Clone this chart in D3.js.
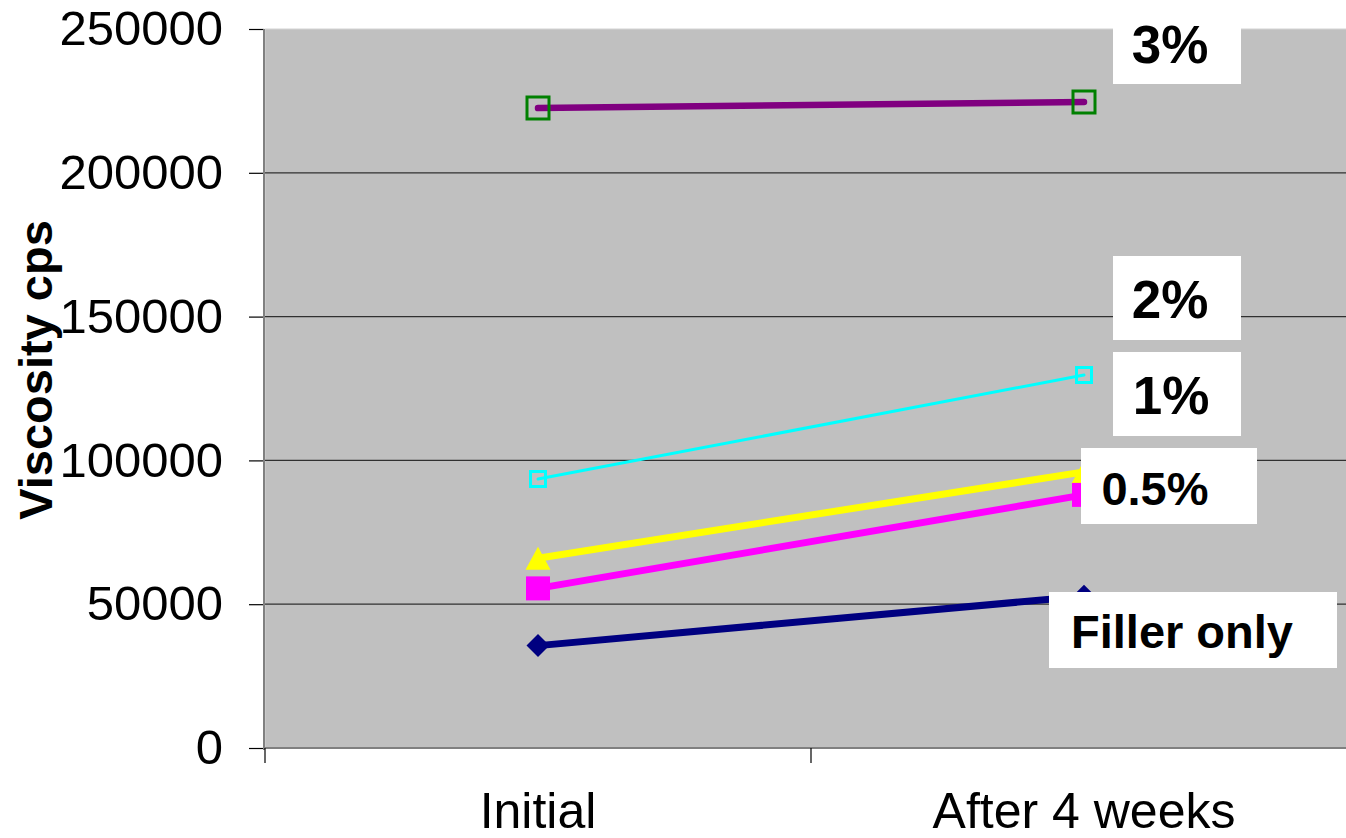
<!DOCTYPE html>
<html>
<head>
<meta charset="utf-8">
<script src="https://cdn.jsdelivr.net/npm/d3@7"></script>
<style>
  body { margin: 0; background: #fff; }
  svg { display: block; font-family: Arial, "Liberation Sans", sans-serif; }
</style>
</head>
<body>
<div id="chart"></div>
<script>
// values
const categories = ['Initial', 'After 4 weeks'];
const yTicks = [0, 50000, 100000, 150000, 200000, 250000];
const seriesLabels = ['3%', '2%', '1%', '0.5%', 'Filler only'];
const conc3 = [222500, 224600];
const conc2 = [93500, 129700];
const conc1 = [66000, 96000];
const conc05 = [55500, 88000];
const fillerOnly = [35600, 52800];

const width = 1346;
const height = 838;
const margin = { top: 29, right: -11, bottom: 90, left: 265 };

// line / marker looks per series
const styles = [
  { values: conc3, line: '#800080', lw: 6.5, shape: 'square', size: 22, fill: 'none', stroke: '#008000', sw: 3 },
  { values: conc2, line: '#00ffff', lw: 3, shape: 'square', size: 15, fill: 'none', stroke: '#00ffff', sw: 3 },
  { values: conc1, line: '#ffff00', lw: 7, shape: 'triangle', size: 25, fill: '#ffff00', stroke: 'none', sw: 0 },
  { values: conc05, line: '#ff00ff', lw: 7, shape: 'square', size: 24, fill: '#ff00ff', stroke: 'none', sw: 0 },
  { values: fillerOnly, line: '#000080', lw: 7, shape: 'diamond', size: 23, fill: '#000080', stroke: 'none', sw: 0 }
];

// white label boxes on the right (hand placed, like in the original)
const labelBoxes = [
  { x: 1113, y: 0, w: 128, h: 84, size: 53, base: 63, dx: -7 },
  { x: 1113, y: 256, w: 128, h: 84, size: 53, base: 318, dx: -7 },
  { x: 1113, y: 352, w: 128, h: 84, size: 53, base: 414, dx: -6 },
  { x: 1081, y: 448, w: 176, h: 76, size: 47, base: 505, dx: -14 },
  { x: 1049, y: 592, w: 288, h: 76, size: 47, base: 648, dx: -11 }
];

const svg = d3.select('#chart')
  .append('svg')
  .attr('width', width)
  .attr('height', height);

const x = d3.scaleBand()
  .domain(categories)
  .range([margin.left, width - margin.right])
  .padding(0);

const y = d3.scaleLinear()
  .domain([0, 250000])
  .range([height - margin.bottom, margin.top]);

const cx = (c) => x(c) + x.bandwidth() / 2;

// plot background
svg.append('rect')
  .attr('x', margin.left)
  .attr('y', y(250000))
  .attr('width', width - margin.right - margin.left)
  .attr('height', y(0) - y(250000))
  .attr('fill', '#c0c0c0')
  .attr('stroke', '#d4d4d4')
  .attr('stroke-width', 1);

// gridlines
svg.append('g')
  .selectAll('line')
  .data(yTicks.filter((d) => d > 0 && d < 250000))
  .join('line')
  .attr('x1', margin.left)
  .attr('x2', width - margin.right)
  .attr('y1', (d) => y(d))
  .attr('y2', (d) => y(d))
  .attr('stroke', '#303030')
  .attr('stroke-width', 1.2);

// Y axis
const yAxis = svg.append('g')
  .attr('transform', `translate(${margin.left - 1},0)`)
  .call(d3.axisLeft(y).tickValues(yTicks).tickSize(15).tickPadding(26).tickFormat((d) => d));
yAxis.select('.domain').remove();
yAxis.selectAll('.tick line').attr('stroke', '#000').attr('stroke-width', 1.2);
yAxis.selectAll('text').attr('font-size', 49).attr('fill', '#000')
  .attr('font-family', 'Arial, "Liberation Sans", sans-serif');

svg.append('line')
  .attr('x1', margin.left - 1).attr('x2', margin.left - 1)
  .attr('y1', y(250000)).attr('y2', y(0) + 2)
  .attr('stroke', '#808080').attr('stroke-width', 2);

// X axis: labels at centres, tick marks between categories
const xAxis = svg.append('g')
  .attr('transform', `translate(0,${y(0)})`)
  .call(d3.axisBottom(x).tickSize(0).tickPadding(44));
xAxis.select('.domain').remove();
xAxis.selectAll('text').attr('font-size', 50).attr('fill', '#000')
  .attr('font-family', 'Arial, "Liberation Sans", sans-serif');

svg.append('line')
  .attr('x1', margin.left - 2).attr('x2', width)
  .attr('y1', y(0)).attr('y2', y(0))
  .attr('stroke', '#808080').attr('stroke-width', 2);

svg.append('g')
  .selectAll('line')
  .data(categories)
  .join('line')
  .attr('x1', (d) => x(d))
  .attr('x2', (d) => x(d))
  .attr('y1', y(0))
  .attr('y2', y(0) + 15)
  .attr('stroke', '#000')
  .attr('stroke-width', 1.2);

// Y axis title
svg.append('text')
  .attr('transform', 'rotate(-90)')
  .attr('x', -370)
  .attr('y', 52)
  .attr('text-anchor', 'middle')
  .attr('font-size', 47)
  .attr('font-weight', 'bold')
  .text('Viscosity cps');

// lines
const line = d3.line()
  .x((d, i) => cx(categories[i]))
  .y((d) => y(d));

styles.forEach((s) => {
  svg.append('path')
    .datum(s.values)
    .attr('fill', 'none')
    .attr('stroke', s.line)
    .attr('stroke-width', s.lw)
    .attr('stroke-linecap', 'round')
    .attr('d', line);
});

// markers
const markerPath = (s) => {
  if (s.shape === 'triangle') {
    const h = s.size * 0.92;
    return `M0,${-h / 2}L${s.size / 2},${h / 2}L${-s.size / 2},${h / 2}Z`;
  }
  if (s.shape === 'diamond') {
    const r = s.size / 2;
    return `M0,${-r}L${r},0L0,${r}L${-r},0Z`;
  }
  return d3.symbol(d3.symbolSquare, s.size * s.size)();
};

styles.forEach((s) => {
  svg.append('g')
    .selectAll('path')
    .data(s.values)
    .join('path')
    .attr('transform', (d, i) => `translate(${cx(categories[i])},${y(d)})`)
    .attr('d', markerPath(s))
    .attr('fill', s.fill)
    .attr('stroke', s.stroke)
    .attr('stroke-width', s.sw);
});

// labels
labelBoxes.forEach((b, i) => {
  svg.append('rect')
    .attr('x', b.x).attr('y', b.y)
    .attr('width', b.w).attr('height', b.h)
    .attr('fill', '#fff');
  svg.append('text')
    .attr('x', b.x + b.w / 2 + b.dx)
    .attr('y', b.base)
    .attr('text-anchor', 'middle')
    .attr('font-size', b.size)
    .attr('font-weight', 'bold')
    .text(seriesLabels[i]);
});
</script>
</body>
</html>
